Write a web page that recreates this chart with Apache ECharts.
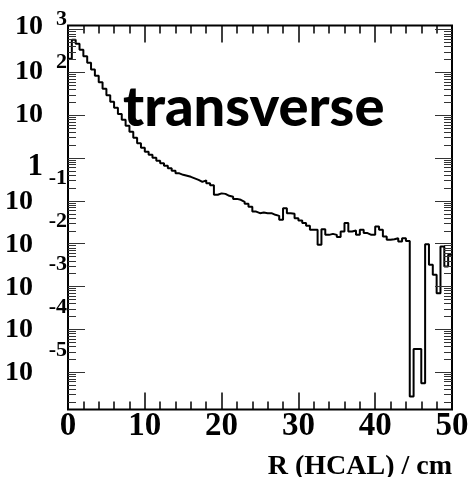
<!DOCTYPE html>
<html>
<head>
<meta charset="utf-8">
<script src="https://cdn.jsdelivr.net/npm/echarts@6/dist/echarts.min.js"></script>
<style>
  html, body { margin: 0; padding: 0; background: #fff; }
  #chart { width: 471px; height: 477px; }
</style>
</head>
<body>
<div id="chart"></div>
<script>
// Histogram of transverse shower radius in the HCAL, 100 bins of 0.5 cm
const binWidth = 0.5;
const xRange = [0, 50];
const xTickStep = 10;
const yRange = [1.33e-6, 1230];
const decades = [-5, -4, -3, -2, -1, 0, 1, 2, 3];
const axisTitle = 'R (HCAL) / cm';
const annotation = 'transverse';

// Bin contents, one value per bin from R = 0 upwards
const counts = [
  205, 569, 459, 332, 234, 165, 116, 82, 58, 40.8,
  28.8, 20.3, 14.7, 10.6, 7.71, 5.59, 4.05, 2.93, 2.18, 1.71,
  1.38, 1.175, 1.0, 0.851, 0.744, 0.650, 0.569, 0.497, 0.435, 0.401,
  0.380, 0.360, 0.332, 0.306, 0.275, 0.298, 0.254, 0.228, 0.137, 0.148,
  0.144, 0.130, 0.123, 0.110, 0.1045, 0.0939, 0.0843, 0.0718, 0.0557, 0.0511,
  0.0528, 0.0511, 0.0511, 0.0467, 0.0442, 0.0357, 0.0669, 0.0511, 0.0493, 0.0391,
  0.0344, 0.0299, 0.0258, 0.0208, 0.0208, 0.0093, 0.0216, 0.0159, 0.0168, 0.0159,
  0.0141, 0.0190, 0.0299, 0.0190, 0.0201, 0.0159, 0.0208, 0.0175, 0.0159, 0.0159,
  0.0249, 0.0208, 0.0145, 0.0122, 0.0126, 0.0133, 0.0111, 0.0133, 0.0115, 2.67e-6,
  3.42e-5, 3.42e-5, 5.49e-6, 0.00966, 0.00318, 0.00186, 0.000693, 0.00849, 0.0029, 0.00543
];

// Step outline: each bin's low edge with its content, closed at the last high edge
const stepPoints = counts.map((c, i) => [i * binWidth, c]);
stepPoints.push([counts.length * binWidth, counts[counts.length - 1]]);

// Log-axis tick marks: 1..9 x 10^n, majors at powers of ten
const yTicks = [];
for (let n = -6; n <= 3; n++) {
  for (let m = 1; m <= 9; m++) {
    const v = m * Math.pow(10, n);
    if (v >= yRange[0] && v <= yRange[1]) yTicks.push([xRange[0], v, m === 1 ? 1 : 0]);
  }
}
const yLabels = decades.map(n => [xRange[0], Math.pow(10, n), n]);

const serif = '"Liberation Serif", "Times New Roman", serif';

const chart = echarts.init(document.getElementById('chart'), null, { renderer: 'canvas' });

function tickAxis(position, showLabel) {
  return {
    type: 'value',
    position: position,
    min: xRange[0],
    max: xRange[1],
    interval: xTickStep,
    axisLine: { show: false },
    axisTick: { show: true, inside: true, length: 17, lineStyle: { color: '#000', width: 1.5 } },
    minorTick: { show: true, splitNumber: 5, length: 8, lineStyle: { color: '#000', width: 1.5 } },
    splitLine: { show: false },
    minorSplitLine: { show: false },
    axisLabel: {
      show: showLabel,
      margin: 0,
      color: '#000',
      fontFamily: serif,
      fontWeight: 'bold',
      fontSize: 33
    }
  };
}

const bottomAxis = tickAxis('bottom', true);
bottomAxis.name = axisTitle;
bottomAxis.nameLocation = 'end';
bottomAxis.nameGap = 0;
bottomAxis.nameTextStyle = {
  color: '#000',
  fontFamily: serif,
  fontWeight: 'bold',
  fontSize: 28,
  align: 'right',
  verticalAlign: 'top',
  padding: [43, 0, 0, 0]
};

chart.setOption({
  animation: false,
  backgroundColor: '#fff',
  grid: {
    left: 68, right: 19, top: 25.5, bottom: 67.5,
    show: true, borderColor: '#000', borderWidth: 2,
    backgroundColor: 'transparent',
    containLabel: false,
    outerBoundsMode: 'none'
  },
  xAxis: [bottomAxis, tickAxis('top', false)],
  yAxis: {
    type: 'log',
    logBase: 10,
    min: yRange[0],
    max: yRange[1],
    axisLine: { show: false },
    axisTick: { show: false },
    axisLabel: { show: false },
    splitLine: { show: false }
  },
  graphic: [{
    type: 'text',
    left: 123,
    top: 80,
    z: 10,
    style: {
      text: annotation,
      fill: '#000',
      font: '900 56px Lato, "DejaVu Sans", sans-serif'
    }
  }],
  series: [
    {
      type: 'line',
      xAxisIndex: 0,
      step: 'end',
      data: stepPoints,
      showSymbol: false,
      symbol: 'none',
      lineStyle: { color: '#000', width: 2 },
      z: 3
    },
    {
      // ROOT-style log ticks on both vertical sides
      type: 'custom',
      xAxisIndex: 0,
      data: yTicks,
      silent: true,
      z: 4,
      renderItem: function (params, api) {
        const v = api.value(1);
        const major = api.value(2) === 1;
        const pL = api.coord([xRange[0], v]);
        const pR = api.coord([xRange[1], v]);
        const y = Math.round(pL[1]) + 0.5;
        const len = major ? 17 : 8;
        const st = { stroke: '#333', lineWidth: 1 };
        return {
          type: 'group',
          children: [
            { type: 'line', shape: { x1: pL[0], y1: y, x2: pL[0] + len, y2: y }, style: st },
            { type: 'line', shape: { x1: pR[0] - len, y1: y, x2: pR[0], y2: y }, style: st }
          ]
        };
      }
    },
    {
      // Power-of-ten labels with raised exponents
      type: 'custom',
      xAxisIndex: 0,
      data: yLabels,
      silent: true,
      z: 4,
      renderItem: function (params, api) {
        const n = api.value(2);
        const p = api.coord([xRange[0], api.value(1)]);
        const xa = p[0], yc = p[1];
        const children = [];
        if (n === 0) {
          children.push({
            type: 'text', x: xa - 25, y: yc + 9,
            style: { text: '1', fill: '#000', fontFamily: serif, fontWeight: 'bold', fontSize: 31, align: 'right', verticalAlign: 'middle' }
          });
        } else {
          const dyBase = n === 3 ? -3 : (n > 0 ? 0 : 1);
          children.push({
            type: 'text', x: xa - (n < 0 ? 35 : 25), y: yc + dyBase,
            style: { text: '10', fill: '#000', fontFamily: serif, fontWeight: 'bold', fontSize: 28, align: 'right', verticalAlign: 'middle' }
          });
          if (n !== 1) {
            children.push({
              type: 'text', x: xa - 1, y: yc + (n < 0 ? -22 : -10),
              style: { text: String(n), fill: '#000', fontFamily: serif, fontWeight: 'bold', fontSize: 22, align: 'right', verticalAlign: 'middle' }
            });
          }
        }
        return { type: 'group', children: children };
      }
    }
  ]
});
</script>
</body>
</html>
